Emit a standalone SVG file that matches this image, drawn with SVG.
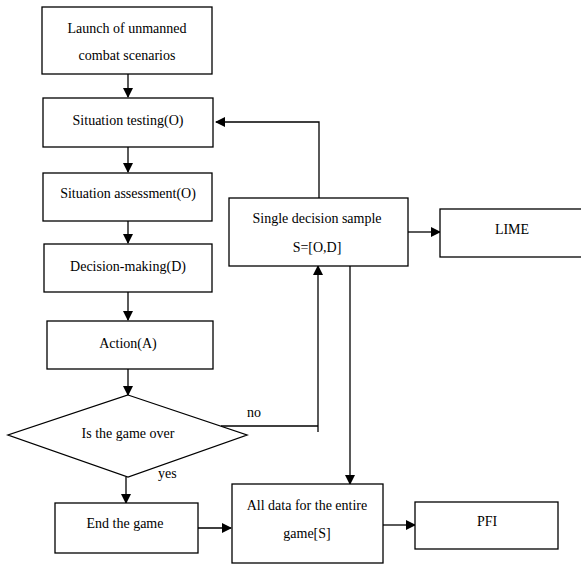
<svg xmlns="http://www.w3.org/2000/svg" width="581" height="565" viewBox="0 0 581 565">
<style>
.n{fill:#fff;stroke:#000;stroke-width:1.3}
.t{font-family:"Liberation Serif","Times New Roman",serif;font-size:14px;fill:#000;text-anchor:middle}
.c{fill:none;stroke:#000;stroke-width:1.3}
</style>
<defs>
<marker id="a" markerWidth="10" markerHeight="10" refX="9" refY="5" orient="auto" markerUnits="userSpaceOnUse">
<path d="M0,0 L10,5 L0,10 Z" fill="#000"/>
</marker>
</defs>
<rect width="581" height="565" fill="#fff"/>
<g id="connectors">
<line class="c" x1="128" y1="74" x2="128" y2="97" marker-end="url(#a)"/>
<line class="c" x1="128" y1="147" x2="128" y2="172" marker-end="url(#a)"/>
<line class="c" x1="128" y1="221" x2="128" y2="243" marker-end="url(#a)"/>
<line class="c" x1="128" y1="292" x2="128" y2="320" marker-end="url(#a)"/>
<line class="c" x1="128" y1="369" x2="128" y2="395" marker-end="url(#a)"/>
<line class="c" x1="126" y1="477" x2="126" y2="503" marker-end="url(#a)"/>
<polyline class="c" points="319,198 319,122 216,122" marker-end="url(#a)"/>
<polyline class="c" points="221,426 318,426"/>
<line class="c" x1="318" y1="432" x2="318" y2="266" marker-end="url(#a)"/>
<line class="c" x1="408" y1="232" x2="440" y2="232" marker-end="url(#a)"/>
<line class="c" x1="350" y1="266" x2="350" y2="484" marker-end="url(#a)"/>
<line class="c" x1="198" y1="528" x2="231" y2="528" marker-end="url(#a)"/>
<line class="c" x1="383" y1="525" x2="415" y2="525" marker-end="url(#a)"/>
<text class="t" x="247" y="417" style="text-anchor:start">no</text>
<text class="t" x="158" y="478" style="text-anchor:start">yes</text>
</g>
<g id="launch">
<rect class="n" x="42" y="7" width="170" height="67"/>
<text class="t" x="127" y="33">Launch of unmanned</text>
<text class="t" x="127" y="60">combat scenarios</text>
</g>
<g id="testing">
<rect class="n" x="43" y="98" width="170" height="49"/>
<text class="t" x="128" y="125">Situation testing(O)</text>
</g>
<g id="assessment">
<rect class="n" x="43" y="173" width="169" height="48"/>
<text class="t" x="128" y="198">Situation assessment(O)</text>
</g>
<g id="decision">
<rect class="n" x="44" y="244" width="168" height="48"/>
<text class="t" x="128" y="271">Decision-making(D)</text>
</g>
<g id="action">
<rect class="n" x="47" y="321" width="166" height="48"/>
<text class="t" x="128" y="348">Action(A)</text>
</g>
<g id="gameover">
<polygon class="n" points="128,395 247,435 128,477 8,435"/>
<text class="t" x="128" y="438">Is the game over</text>
</g>
<g id="end">
<rect class="n" x="55" y="503" width="143" height="50"/>
<text class="t" x="125" y="528">End the game</text>
</g>
<g id="sample">
<rect class="n" x="229" y="198" width="179" height="68"/>
<text class="t" x="317" y="223">Single decision sample</text>
<text class="t" x="317" y="252">S=[O,D]</text>
</g>
<g id="lime">
<rect class="n" x="440" y="209" width="145" height="48"/>
<text class="t" x="512" y="234">LIME</text>
</g>
<g id="alldata">
<rect class="n" x="232" y="484" width="151" height="79"/>
<text class="t" x="307" y="510">All data for the entire</text>
<text class="t" x="307" y="538">game[S]</text>
</g>
<g id="pfi">
<rect class="n" x="415" y="502" width="143" height="47"/>
<text class="t" x="487" y="526">PFI</text>
</g>
</svg>
